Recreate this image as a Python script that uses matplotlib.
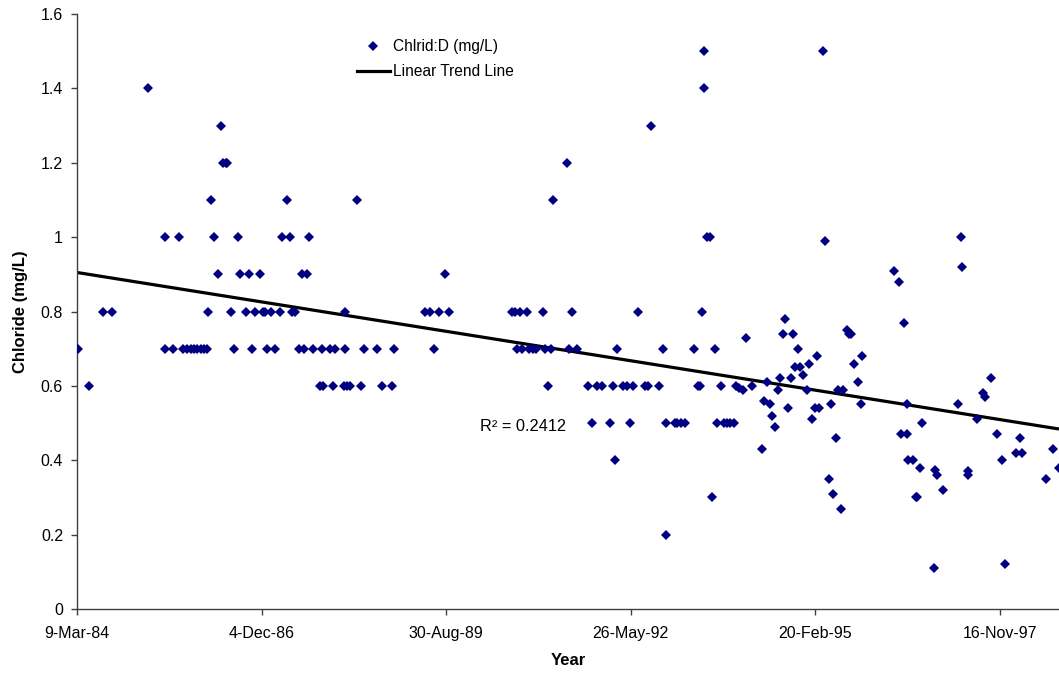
import matplotlib
matplotlib.use('Agg')
import matplotlib.pyplot as plt
import matplotlib.dates as mdates
from matplotlib.lines import Line2D
from matplotlib.ticker import FuncFormatter, FixedLocator
import numpy as np
from datetime import datetime, timedelta

plt.rcParams['font.family'] = ['Liberation Sans', 'DejaVu Sans']

# ---- data (decimal year of sample, chloride in mg/L) ----
sample_year = [
    1984.205, 1984.368, 1984.567, 1984.709, 1985.243, 1985.496, 1985.694,
    1985.491, 1985.614, 1985.754, 1985.822, 1985.872, 1985.921, 1985.970, 1986.020, 1986.069, 1986.118,
    1986.173, 1986.218, 1986.277, 1986.317, 1986.356, 1986.391, 1986.415,
    1986.133, 1986.465, 1986.688, 1986.826, 1986.940, 1986.974, 1987.059, 1987.197, 1987.370, 1987.419,
    1986.510, 1986.777, 1987.008, 1987.122, 1987.478, 1987.552, 1987.690, 1987.815, 1987.938,
    1986.569, 1986.603, 1986.732, 1986.900, 1987.226, 1987.340, 1987.631, 1987.296, 1988.343,
    1987.518, 1987.601,
    1988.017, 1988.156, 1988.438, 1988.640, 1988.892,
    1987.790, 1987.839, 1987.983, 1988.146, 1988.186, 1988.235, 1988.402, 1988.705, 1988.853,
    1988.156,
    1989.347, 1989.421, 1989.559, 1989.707, 1989.485, 1989.644,
    1990.633, 1990.682, 1990.756, 1990.855, 1991.092, 1991.523,
    1990.707, 1990.781, 1990.894, 1990.944, 1990.993, 1991.127, 1991.211, 1991.487, 1991.606,
    1991.250, 1991.448,
    1991.176, 1991.769, 1991.893, 1991.967, 1992.131, 1992.279, 1992.347, 1992.427, 1992.610, 1992.659, 1992.825,
    1991.819, 1992.091, 1992.387, 1992.160, 1992.694, 1992.190, 1992.881, 1992.510, 1992.921,
    1992.921, 1993.054, 1993.089, 1993.139, 1993.203,
    1993.341, 1993.652, 1993.459, 1993.489, 1993.489, 1993.534, 1993.574,
    1993.391, 1993.425, 1993.732, 1993.959, 1994.008, 1994.068, 1994.192,
    1993.608, 1993.673, 1993.781, 1993.821, 1993.870, 1993.929,
    1994.112, 1994.340, 1994.423, 1994.374, 1994.463, 1994.497, 1994.537, 1994.587, 1994.612,
    1994.686, 1994.652, 1994.800, 1994.770, 1994.726, 1994.834, 1994.908, 1994.879, 1994.957,
    1995.008, 1995.046, 1995.086, 1995.126, 1995.194, 1995.165, 1995.245, 1995.284, 1995.368,
    1995.338, 1995.402, 1995.438, 1995.476, 1995.550, 1995.512, 1995.601, 1995.639, 1995.669,
    1995.709, 1995.764, 1995.808, 1995.828,
    1996.302, 1996.376, 1996.451, 1996.406, 1996.491, 1996.491, 1996.514, 1996.589, 1996.624,
    1996.648, 1996.688, 1996.718, 1996.896, 1996.910, 1996.936, 1997.033, 1997.247, 1997.296,
    1997.315, 1997.404, 1997.404, 1997.538, 1997.627, 1997.652, 1997.736, 1997.825, 1997.908,
    1997.948, 1998.112, 1998.196, 1998.171, 1998.556, 1998.656, 1998.757,
]
chloride = [
    0.70, 0.60, 0.80, 0.80, 1.40, 1.00, 1.00,
    0.70, 0.70, 0.70, 0.70, 0.70, 0.70, 0.70, 0.70, 0.70, 0.70,
    1.10, 1.00, 0.90, 1.30, 1.20, 1.20, 1.20,
    0.80, 0.80, 0.80, 0.80, 0.80, 0.80, 0.80, 0.80, 0.80, 0.80,
    0.70, 0.70, 0.70, 0.70, 0.70, 0.70, 0.70, 0.70, 0.70,
    1.00, 0.90, 0.90, 0.90, 1.00, 1.00, 1.00, 1.10, 1.10,
    0.90, 0.90,
    0.70, 0.70, 0.70, 0.70, 0.70,
    0.60, 0.60, 0.60, 0.60, 0.60, 0.60, 0.60, 0.60, 0.60,
    0.80,
    0.80, 0.80, 0.80, 0.80, 0.70, 0.90,
    0.80, 0.80, 0.80, 0.80, 0.80, 0.80,
    0.70, 0.70, 0.70, 0.70, 0.70, 0.70, 0.70, 0.70, 0.70,
    1.10, 1.20,
    0.60, 0.60, 0.60, 0.60, 0.60, 0.60, 0.60, 0.60, 0.60, 0.60, 0.60,
    0.50, 0.50, 0.50, 0.40, 1.30, 0.70, 0.70, 0.80, 0.20,
    0.50, 0.50, 0.50, 0.50, 0.50,
    0.70, 0.70, 0.80, 1.50, 1.40, 1.00, 1.00,
    0.60, 0.60, 0.60, 0.60, 0.595, 0.59, 0.60,
    0.30, 0.50, 0.50, 0.50, 0.50, 0.50,
    0.73, 0.43, 0.61, 0.56, 0.55, 0.52, 0.49, 0.59, 0.62,
    0.78, 0.74, 0.74, 0.62, 0.54, 0.65, 0.65, 0.70, 0.63,
    0.59, 0.66, 0.51, 0.54, 0.54, 0.68, 1.50, 0.99, 0.55,
    0.35, 0.31, 0.46, 0.59, 0.59, 0.27, 0.75, 0.74, 0.74,
    0.66, 0.61, 0.55, 0.68,
    0.91, 0.88, 0.77, 0.47, 0.47, 0.55, 0.40, 0.40, 0.30,
    0.30, 0.38, 0.50, 0.11, 0.375, 0.36, 0.32, 0.55, 1.00,
    0.92, 0.37, 0.36, 0.51, 0.58, 0.57, 0.62, 0.47, 0.40,
    0.12, 0.42, 0.42, 0.46, 0.35, 0.43, 0.38,
]
y_ticks = [0, 0.2, 0.4, 0.6, 0.8, 1.0, 1.2, 1.4, 1.6]
axis_start = '1984-03-09'
tick_step_days = 1000
axis_span_days = 5320
series_label = 'Chlrid:D (mg/L)'
trend_label = 'Linear Trend Line'
r2_label = 'R\u00b2 = 0.2412'


def year_to_date(y):
    yi = int(y)
    return datetime(yi, 1, 1) + timedelta(days=(y - yi) * 365.25)


xnum = mdates.date2num([year_to_date(y) for y in sample_year])
yv = np.array(chloride)
x0 = mdates.date2num(datetime.strptime(axis_start, '%Y-%m-%d'))
x1 = x0 + axis_span_days

W, H = 1059, 675
fig = plt.figure(figsize=(W / 100, H / 100), dpi=100)
ax = fig.add_axes([77 / W, 66 / H, (W - 77) / W, 595 / H])

navy = '#000080'
ax.plot(xnum, yv, linestyle='none', marker='D', markersize=5.6,
        color=navy, markeredgewidth=0, zorder=3)

coef = np.polyfit(xnum, yv, 1)
xs = np.array([x0, x1])
ax.plot(xs, np.polyval(coef, xs), color='black', lw=2.3, zorder=2,
        solid_capstyle='butt')

ax.set_xlim(x0, x1)
ax.set_ylim(0, 1.6)
ax.yaxis.set_major_locator(FixedLocator(y_ticks))
ax.yaxis.set_major_formatter(FuncFormatter(lambda v, _: f'{v:g}'))
ax.xaxis.set_major_locator(FixedLocator(x0 + np.arange(0, axis_span_days, tick_step_days)))


def fmt_date(v, _):
    d = mdates.num2date(v)
    return f"{d.day}-{d.strftime('%b-%y')}"


ax.xaxis.set_major_formatter(FuncFormatter(fmt_date))

for s in ['top', 'right']:
    ax.spines[s].set_visible(False)
for s in ['left', 'bottom']:
    ax.spines[s].set_color('#404040')
    ax.spines[s].set_linewidth(1.0)
ax.tick_params(axis='both', direction='out', length=4, width=1.0, color='#404040',
               labelsize=11.5, labelcolor='black')
ax.tick_params(axis='y', pad=6)
ax.tick_params(axis='x', pad=8)

ax.set_xlabel('Year', fontsize=12, fontweight='bold', labelpad=9)
ax.set_ylabel('Chloride (mg/L)', fontsize=12, fontweight='bold', labelpad=9)

# R^2 annotation
ax.text(mdates.date2num(year_to_date(1990.80)), 0.49, r2_label, fontsize=11.8,
        ha='center', va='center')

handles = [
    Line2D([], [], linestyle='none', marker='D', markersize=5.6, color=navy, markeredgewidth=0),
    Line2D([], [], color='black', lw=2.3),
]
fig.legend(handles, [series_label, trend_label], loc='upper left',
           bbox_to_anchor=(357 / W, 1 - 39 / H), frameon=False, fontsize=11.2,
           borderpad=0, borderaxespad=0, handlelength=2.1, handletextpad=0.2,
           labelspacing=0.66)

fig.savefig('out.png', dpi=100)
